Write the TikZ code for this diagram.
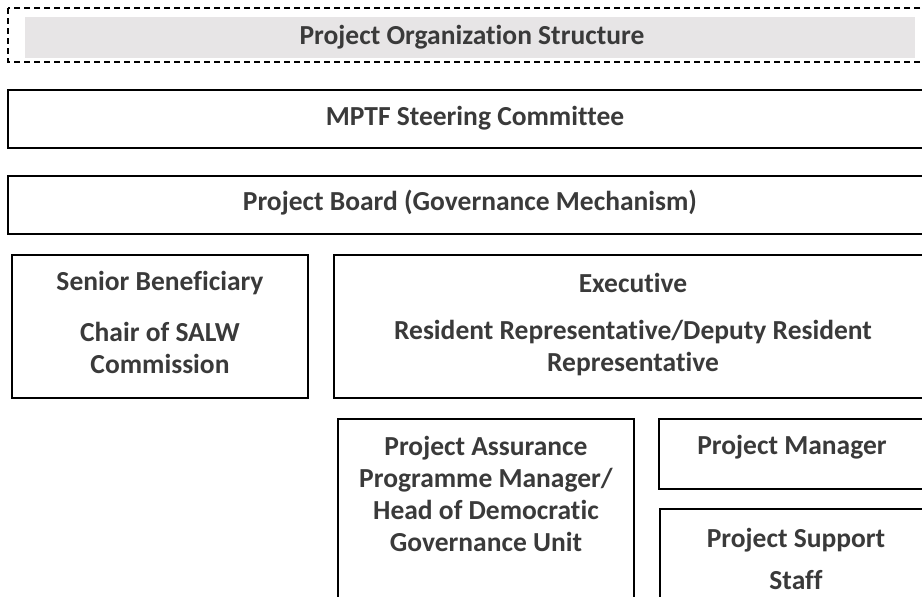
\documentclass[tikz,border=0pt]{standalone}
\usepackage{fontspec}
\setmainfont{Carlito}[RawFeature=-liga]
\definecolor{textgray}{HTML}{3A3A3A}
\definecolor{titlefill}{HTML}{E7E5E6}
\tikzset{
  box/.style={draw=black, line width=1.3pt},
  boxtext/.style={text=textgray, align=center, inner sep=0pt,
    font=\fontsize{27.5}{32}\selectfont\bfseries},
}
\begin{document}
\begin{tikzpicture}[x=1pt, y=-1pt]
	\useasboundingbox (0, 0) rectangle (922, 597);
	% heading
	\draw[box, dashed, dash pattern=on 6pt off 4pt, line width=1.1pt] (8, 8) rectangle (935, 62);
	\fill[titlefill] (25, 17) rectangle (915, 58);
	\node[boxtext] (title) at (472, 37) {Project Organization Structure};

	% boxes
	\draw[box] (8, 90) rectangle (935, 148);
	\draw[box] (8, 176) rectangle (935, 234);
	\draw[box] (12, 255) rectangle (308, 398);
	\draw[box] (334, 255) rectangle (935, 398);
	\draw[box] (338, 419) rectangle (634, 610);
	\draw[box] (659, 419) rectangle (935, 489);
	\draw[box] (660, 509) rectangle (935, 610);

	% texts
	\node[boxtext] (mptf) at (475, 118) {MPTF Steering Committee};
	\node[boxtext] (board) at (470, 203) {Project Board (Governance Mechanism)};
	\node[boxtext] (senior) at (160, 283) {Senior Beneficiary};
	\node[boxtext] (chair) at (160, 348) {Chair of SALW\\Commission};
	\node[boxtext] (exec) at (633, 283) {Executive};
	\node[boxtext] (resrep) at (633, 348) {Resident Representative/Deputy Resident\\Representative};
	\node[boxtext] (assurance) at (486, 494) {Project Assurance\\Programme Manager/\\Head of Democratic\\Governance Unit};
	\node[boxtext] (manager) at (792, 447) {Project Manager};
	\node[boxtext] (support) at (796, 559) {Project Support\\[10pt]Staff};
\end{tikzpicture}
\end{document}
